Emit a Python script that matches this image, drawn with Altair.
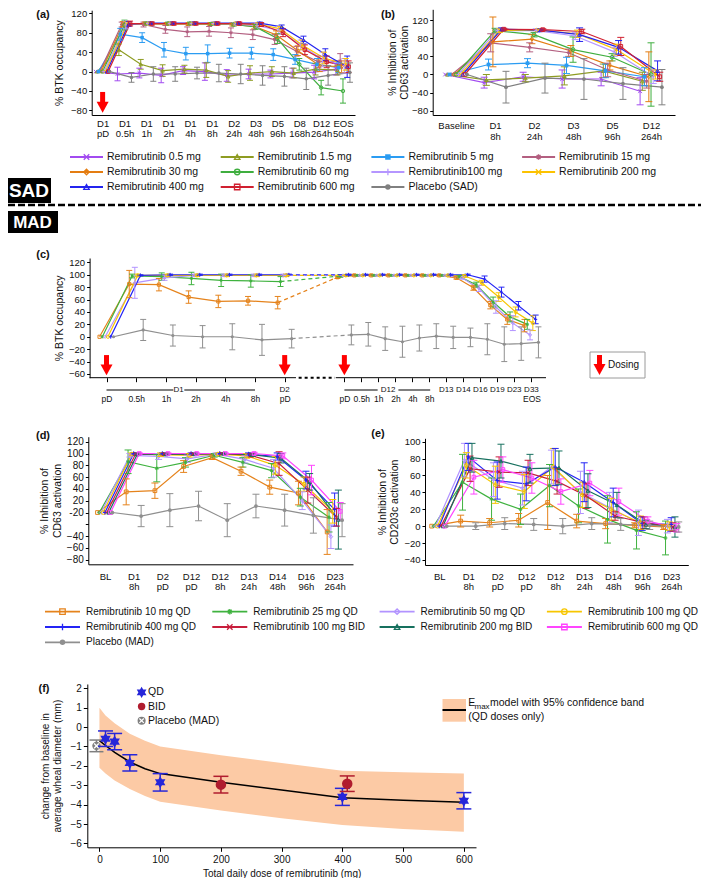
import json
import altair as alt
import pandas as pd

FONT = "Liberation Sans"
NARROW = "Liberation Sans Narrow, Liberation Sans"
W, H = 693, 870
INK = "#111111"
RED = "#ff0000"

X_PATH = "M-1,-1L1,1M-1,1L1,-1"
PLUS_PATH = "M-1,0L1,0M0,-1.2L0,1.2"
AST_PATH = "M-1,0L1,0M0,-1L0,1M-0.7,-0.7L0.7,0.7M-0.7,0.7L0.7,-0.7"
HEX_STAR = "M0,-1.15L1,0.58L-1,0.58ZM0,1.15L-1,-0.58L1,-0.58Z"
ARROW_HEAD = "M-1,-0.9L1,-0.9L0,0.9Z"
X_SMALL = "M-0.55,-0.55L0.55,0.55M-0.55,0.55L0.55,-0.55"

# ---------------------------------------------------------------- SAD data
sad_series = ["Remibrutinib 0.5 mg", "Remibrutinib 1.5 mg", "Remibrutinib 5 mg", "Remibrutinib 15 mg",
              "Remibrutinib 30 mg", "Remibrutinib 60 mg", "Remibrutinib100 mg", "Remibrutinib 200 mg",
              "Remibrutinib 400 mg", "Remibrutinib 600 mg", "Placebo (SAD)"]
sad_colors = ["#a24bf0", "#8e9c22", "#2b9cf2", "#b35f80", "#e47d12", "#3fae3f", "#b596ff",
              "#fcc200", "#2424ee", "#d02030", "#808080"]
sad_shapes = [X_PATH, "triangle-up", "square", AST_PATH, "diamond", "circle", PLUS_PATH,
              X_PATH, "triangle-up", "square", "circle"]
sad_filled = ["Remibrutinib 5 mg", "Placebo (SAD)"]

a_labels = [["D1", "pD"], ["D1", "0.5h"], ["D1", "1h"], ["D1", "2h"], ["D1", "4h"], ["D1", "8h"],
            ["D2", "24h"], ["D3", "48h"], ["D5", "96h"], ["D8", "168h"], ["D12", "264h"], ["EOS", "504h"]]
a_vals = [
    [0, -5, -3, -8, 2, 0, -8, -5, -5, -3, -1, 5],
    [0, 45, 15, 2, 5, 3, -10, -3, 0, -3, 5, 3],
    [0, 77, 70, 45, 37, 37, 38, 38, 35, 25, 15, 8],
    [0, 97, 97, 87, 82, 83, 80, 76, 66, 42, 20, 22],
    [0, 98, 99, 98, 98, 98, 97, 93, 76, 43, 12, 10],
    [0, 96, 99, 99, 99, 98, 97, 92, 68, 15, -33, -40],
    [0, 96, 99, 99, 99, 99, 98, 95, 85, 55, 25, 12],
    [0, 98, 99, 99, 99, 99, 99, 98, 88, 55, 28, 15],
    [0, 98, 100, 100, 100, 100, 100, 100, 92, 65, 35, 10],
    [0, 99, 99, 99, 99, 99, 99, 97, 80, 45, 20, 10],
    [0, -12, -5, -5, -3, -3, -5, -8, -10, -15, -8, -2],
]
a_err = [
    [0, 14, 10, 15, 8, 18, 12, 10, 8, 10, 14, 12],
    [0, 12, 10, 12, 8, 15, 12, 15, 10, 10, 12, 10],
    [0, 12, 10, 15, 13, 18, 10, 12, 12, 10, 12, 10],
    [0, 5, 5, 8, 10, 10, 10, 10, 10, 10, 12, 15],
    [0, 5, 3, 3, 3, 3, 3, 5, 8, 10, 12, 12],
    [0, 10, 3, 3, 3, 3, 3, 5, 10, 12, 15, 25],
    [0, 8, 3, 3, 3, 3, 3, 5, 8, 10, 15, 15],
    [0, 5, 3, 3, 3, 3, 3, 3, 5, 10, 12, 12],
    [0, 5, 2, 2, 2, 2, 2, 2, 4, 8, 12, 22],
    [0, 5, 3, 3, 3, 3, 3, 4, 8, 10, 12, 12],
    [0, 10, 15, 15, 12, 18, 20, 20, 20, 22, 20, 20],
]

b_labels = [["Baseline"], ["D1", "8h"], ["D2", "24h"], ["D3", "48h"], ["D5", "96h"], ["D12", "264h"]]
b_vals = [
    [0, -18, -5, -10, -10, -37],
    [0, -12, -8, -3, 8, -15],
    [0, 22, 25, 20, 8, -5],
    [0, 70, 60, 48, 10, -15],
    [0, 72, 78, 52, 20, -5],
    [0, 97, 88, 55, 38, 0],
    [0, 97, 97, 85, 50, -5],
    [0, 97, 98, 90, 55, 0],
    [0, 100, 98, 88, 60, 8],
    [0, 100, 99, 95, 62, -5],
    [0, -28, -8, -10, -20, -28],
]
b_err = [
    [0, 12, 10, 20, 15, 30],
    [0, 12, 8, 20, 15, 20],
    [0, 12, 10, 18, 15, 20],
    [0, 20, 10, 8, 15, 15],
    [0, 55, 10, 12, 10, 55],
    [0, 5, 5, 28, 8, 70],
    [0, 4, 4, 8, 10, 15],
    [0, 4, 3, 8, 12, 10],
    [0, 3, 3, 15, 15, 22],
    [0, 2, 2, 5, 20, 10],
    [0, 35, 33, 45, 35, 39],
]

# ---------------------------------------------------------------- MAD data
mad_series = ["Remibrutinib 10 mg QD", "Remibrutinib 25 mg QD", "Remibrutinib 50 mg QD",
              "Remibrutinib 100 mg QD", "Remibrutinib 400 mg QD", "Remibrutinib 100 mg BID",
              "Remibrutinib 200 mg BID", "Remibrutinib 600 mg QD", "Placebo (MAD)"]
mad_colors = ["#e5831c", "#3fb23f", "#b293ff", "#f7c600", "#2424f5", "#c81e3c", "#16705e",
              "#ff45ff", "#8f8f8f"]
mad_shapes = ["square", AST_PATH, "diamond", "circle", PLUS_PATH, X_PATH, "triangle-up", "square", "circle"]
mad_filled = ["Placebo (MAD)"]

# panel (c): BTK occupancy, MAD
c_series = ["Remibrutinib 10 mg QD", "Remibrutinib 25 mg QD", "Remibrutinib 50 mg QD",
            "Remibrutinib 100 mg QD", "Remibrutinib 400 mg QD", "Placebo (MAD)"]
c_pos = [0, 1, 2, 3, 4, 5, 6, 8.01, 8.58, 9.15, 9.73, 10.3, 10.87, 11.44, 12.02, 12.59, 13.16, 13.73, 14.31]
c_row2 = ["pD", "0.5h", "1h", "2h", "4h", "8h", "pD", "pD", "0.5h", "1h", "2h", "4h", "8h",
          "", "", "", "", "", "EOS"]
c_row1 = ["D2", "D13", "D14", "D16", "D19", "D23", "D33"]
c_row1_pos = [6, 11.44, 12.02, 12.59, 13.16, 13.73, 14.31]
c_groups = ["D1", "D12"]
c_groups_pos = [2.43, 9.48]
c_group_lines = [[0, 2.25], [2.62, 5.0], [8.01, 9.13], [9.83, 10.9]]
c_axis_solid = [[-0.57, 6.38], [7.72, 14.8]]
c_axis_break = [[6.47, 7.69]]
c_vals = [
    [0, 85, 84, 64, 57, 58, 55, 96, 99, 99, 99, 99, 99, 99, 95, 79, 51, 28, 18],
    [0, 98, 97, 94, 91, 90, 89, 98, 99, 99, 99, 99, 99, 99, 97, 84, 56, 32, 20],
    [0, 87, 95, 99, 99, 99, 99, 99, 99, 99, 99, 99, 99, 99, 95, 78, 48, 22, 3],
    [0, 99, 99, 99, 99, 99, 99, 99, 99, 99, 99, 99, 99, 99, 98, 87, 64, 40, 22],
    [0, 99, 100, 100, 100, 100, 100, 100, 100, 100, 100, 100, 100, 100, 100, 93, 72, 50, 28],
    [0, 11, 2, 0, 0, -5, -3, 3, 4, -3, -8, -2, 1, -1, -1, -4, -12, -11, -9],
]
c_err = [
    [0, 22, 10, 10, 10, 7, 10, 2, 1, 1, 1, 1, 1, 1, 2, 4, 6, 8, 10],
    [0, 3, 6, 10, 10, 10, 8, 2, 1, 1, 1, 1, 1, 1, 2, 4, 8, 8, 8],
    [0, 25, 4, 2, 2, 2, 2, 1, 1, 1, 1, 1, 1, 1, 2, 5, 10, 12, 8],
    [0, 2, 2, 2, 2, 2, 2, 1, 1, 1, 1, 1, 1, 1, 2, 4, 7, 8, 12],
    [0, 1, 1, 1, 1, 1, 1, 1, 1, 1, 1, 1, 1, 1, 1, 5, 8, 7, 7],
    [0, 17, 17, 18, 21, 25, 15, 16, 19, 19, 25, 21, 20, 18, 15, 25, 28, 27, 25],
]
dose_arrow_a = [0]
dose_arrow_c = [0, 6, 8.01]

de_labels = [["BL"], ["D1", "8h"], ["D2", "pD"], ["D12", "pD"], ["D12", "8h"], ["D13", "24h"],
             ["D14", "48h"], ["D16", "96h"], ["D23", "264h"]]
d_vals = [
    [0, 35, 37, 78, 93, 70, 43, 33, -33],
    [0, 86, 75, 85, 97, 85, 71, 26, -8],
    [0, 97, 95, 91, 99, 90, 75, 20, -41],
    [0, 99, 98, 97, 99, 96, 80, 48, 2],
    [0, 100, 100, 100, 100, 99, 95, 55, 5],
    [0, 99, 99, 99, 100, 97, 83, 38, -8],
    [0, 99, 99, 99, 100, 98, 92, 52, -12],
    [0, 100, 100, 100, 100, 100, 96, 55, 2],
    [0, -6, 4, 11, -13, 11, 4, -5, -13],
]
d_err = [
    [0, 22, 13, 10, 3, 7, 12, 20, 38],
    [0, 20, 23, 8, 3, 8, 12, 15, 25],
    [0, 3, 5, 6, 2, 6, 15, 15, 20],
    [0, 2, 3, 3, 2, 4, 15, 12, 20],
    [0, 1, 1, 1, 1, 2, 6, 15, 28],
    [0, 2, 2, 2, 1, 3, 20, 22, 15],
    [0, 2, 2, 2, 1, 3, 8, 14, 50],
    [0, 1, 1, 1, 1, 2, 5, 25, 15],
    [0, 18, 28, 25, 28, 20, 27, 30, 28],
]
e_vals = [
    [0, 6, 4, 7, 28, 6, 3, 1, -1],
    [0, 52, 32, 20, 48, 24, 8, -5, -14],
    [0, 78, 55, 45, 70, 40, 22, 4, 0],
    [0, 72, 49, 41, 70, 37, 20, 4, 0],
    [0, 82, 54, 50, 70, 52, 28, 3, 2],
    [0, 68, 64, 63, 53, 36, 12, 4, -1],
    [0, 81, 77, 68, 69, 42, 25, 2, -1],
    [0, 58, 67, 57, 41, 51, 29, 6, -2],
    [0, 0, 3, 2, 0, 3, 2, 1, -1],
]
e_err = [
    [0, 7, 5, 8, 32, 8, 6, 3, 3],
    [0, 33, 25, 18, 25, 20, 28, 22, 20],
    [0, 20, 20, 20, 20, 25, 18, 15, 8],
    [0, 15, 22, 20, 22, 15, 13, 8, 5],
    [0, 16, 22, 20, 22, 23, 17, 8, 8],
    [0, 15, 18, 15, 15, 15, 5, 7, 5],
    [0, 17, 20, 17, 20, 20, 15, 5, 12],
    [0, 20, 15, 18, 15, 15, 16, 5, 5],
    [0, 4, 7, 7, 9, 7, 7, 5, 6],
]

# panel (f)
f_band_dose = [0, 10, 25, 50, 75, 100, 200, 300, 400, 500, 600]
f_band_hi = [1.0, 0.6, 0.2, -0.35, -0.7, -1.0, -1.45, -1.85, -2.25, -2.33, -2.4]
f_band_lo = [-2.1, -2.4, -2.75, -3.2, -3.55, -3.85, -4.3, -4.7, -5.05, -5.25, -5.4]
f_fit = [-0.7, -0.95, -1.3, -1.8, -2.15, -2.4, -2.85, -3.25, -3.65, -3.78, -3.88]
f_qd_dose = [10, 25, 50, 100, 400, 600]
f_qd_mean = [-0.6, -0.75, -1.85, -2.85, -3.6, -3.8]
f_qd_se = [0.4, 0.42, 0.42, 0.45, 0.44, 0.42]
f_bid_dose = [200, 408]
f_bid_mean = [-2.97, -2.92]
f_bid_se = [0.43, 0.4]
f_pbo_dose = [0]
f_pbo_mean = [-0.97]
f_pbo_se = [0.3]
f_legend = ["QD", "BID", "Placebo (MAD)"]

QD_BLUE = "#2626d9"
BID_RED = "#b01c2e"
PBO_GRAY = "#7f7f7f"
BAND = "#fccaa5"


# ---------------------------------------------------------------- helpers
def series_df(names, vals, errs, pos, dodge, seg_break=None):
    rows = []
    n = len(names)
    for i, nm in enumerate(names):
        for j, (v, e) in enumerate(zip(vals[i], errs[i])):
            rows.append({"series": nm, "idx": j, "x": pos[j] + (i - (n - 1) / 2) * dodge,
                         "y": v, "lo": v - e, "hi": v + e,
                         "seg": 0 if (seg_break is None or j < seg_break) else 1})
    return pd.DataFrame(rows)


def lin(domain, rng):
    return alt.Scale(domain=domain, range=rng, nice=False, zero=False)


def y_axis(x0, values, title, pad=4, expr=None, fs=9.5, tfs=10.5, tick=3, font=FONT):
    kw = dict(orient="left", offset=-x0, values=values, title=title, grid=False, tickSize=tick,
              tickColor="black", domainColor="black", labelPadding=2, titlePadding=pad,
              labelFontSize=fs, titleFontSize=tfs, titleFontWeight="normal", labelColor=INK,
              titleColor=INK, labelFlush=False, labelOverlap=False, titleLineHeight=12.5,
              labelFont=font, titleFont=font)
    if expr:
        kw["labelExpr"] = expr
    return alt.Axis(**kw)


def x_axis(y0, values, expr, pad=3, ticks=False, tick=0, lh=10.5, domain=True, fs=9.5, title="",
           tpad=4, tfs=10.5, font=FONT):
    kw = dict(orient="bottom", offset=y0 - H, values=values, labelExpr=expr, grid=False,
              ticks=ticks, tickSize=tick, domain=domain, domainColor="black", tickColor="black",
              labelPadding=pad, labelFontSize=fs, labelLineHeight=lh, labelFlush=False,
              labelOverlap=False, labelColor=INK, titleColor=INK, titleFontWeight="normal",
              titlePadding=tpad, titleFontSize=tfs, title=title, labelFont=font, titleFont=font)
    return alt.Axis(**kw)


def in_expr(names):
    return f"indexof({json.dumps(names)}, datum.series) >= 0"


def out_expr(names):
    return f"indexof({json.dumps(names)}, datum.series) < 0"


class Frame:
    """x / y channel factory that carries one panel's scales and axes on every layer."""

    def __init__(self, xs, ys, xaxis, yaxis):
        self.xs, self.ys, self.xa, self.ya = xs, ys, xaxis, yaxis

    def X(self, f):
        return alt.X(f, scale=self.xs, axis=self.xa)

    def Y(self, f):
        return alt.Y(f, scale=self.ys, axis=self.ya)

    def YD(self, v):
        return alt.YDatum(v, scale=self.ys, axis=self.ya)


def panel(df, fr, cscale, sscale, filled, cap, psize, lw=1.2, detail=None, extra=()):
    base = alt.Chart(df)
    col = alt.Color("series:N", scale=cscale, legend=None)
    sh = alt.Shape("series:N", scale=sscale, legend=None)
    enc = dict(x=fr.X("x:Q"), y=fr.Y("y:Q"), color=col)
    if detail is not None:
        enc["detail"] = detail
    line = base.mark_line(strokeWidth=lw).encode(**enc)
    eb = base.transform_filter("datum.hi > datum.lo")
    rule = eb.mark_rule(strokeWidth=1).encode(x=fr.X("x:Q"), y=fr.Y("lo:Q"), y2="hi:Q", color=col)
    c1 = eb.mark_tick(orient="horizontal", size=cap, thickness=1, opacity=1).encode(
        x=fr.X("x:Q"), y=fr.Y("lo:Q"), color=col)
    c2 = eb.mark_tick(orient="horizontal", size=cap, thickness=1, opacity=1).encode(
        x=fr.X("x:Q"), y=fr.Y("hi:Q"), color=col)
    po = base.transform_filter(out_expr(filled)).mark_point(filled=False, size=psize, strokeWidth=1,
                                                              opacity=1).encode(
        x=fr.X("x:Q"), y=fr.Y("y:Q"), color=col, shape=sh)
    pf = base.transform_filter(in_expr(filled)).mark_point(filled=True, size=psize, opacity=1).encode(
        x=fr.X("x:Q"), y=fr.Y("y:Q"), color=col, shape=sh)
    return alt.layer(line, rule, c1, c2, po, pf, *extra)


def arrows(xpos, ytop, ybot, yhead, fr):
    base = alt.Chart(pd.DataFrame({"x": xpos}))
    stem = base.mark_rule(color=RED, strokeWidth=5).encode(x=fr.X("x:Q"), y=fr.YD(ytop), y2=alt.datum(ybot))
    head = base.mark_point(shape=ARROW_HEAD, filled=True, color=RED, size=144, opacity=1).encode(
        x=fr.X("x:Q"), y=fr.YD(yhead))
    return [stem, head]


def legend(names, colors, shapes, filled, ncol, x0, xstep, y0, ystep, line_len, text_dx, fs, psize=30):
    df = pd.DataFrame({"series": names,
                       "col": [i % ncol for i in range(len(names))],
                       "row": [i // ncol for i in range(len(names))]})
    xs = lin([0, ncol - 1], [x0, x0 + xstep * (ncol - 1)])
    ys = lin([0, 2], [y0, y0 + 2 * ystep])
    base = alt.Chart(df)
    X = alt.X("col:Q", scale=xs, axis=None)
    Y = alt.Y("row:Q", scale=ys, axis=None)
    col = alt.Color("series:N", scale=alt.Scale(domain=names, range=colors), legend=None)
    sh = alt.Shape("series:N", scale=alt.Scale(domain=names, range=shapes), legend=None)
    ln = base.mark_rule(strokeWidth=1.8, x2Offset=line_len).encode(x=X, x2="col:Q", y=Y, color=col)
    po = base.transform_filter(out_expr(filled)).mark_point(
        filled=False, size=psize, strokeWidth=1.3, opacity=1, xOffset=line_len / 2).encode(
        x=X, y=Y, color=col, shape=sh)
    pf = base.transform_filter(in_expr(filled)).mark_point(
        filled=True, size=psize, opacity=1, xOffset=line_len / 2).encode(x=X, y=Y, color=col, shape=sh)
    tx = base.mark_text(align="left", baseline="middle", dx=text_dx, fontSize=fs, color=INK).encode(
        x=X, y=Y, text="series:N")
    return alt.layer(ln, po, pf, tx)


dummy = pd.DataFrame({"k": [0]})


def deco_rect(x, x2, y, y2, **kw):
    return alt.Chart(dummy).mark_rect(**kw).encode(x=alt.value(x), x2=alt.value(x2), y=alt.value(y),
                                                   y2=alt.value(y2))


def deco_text(t, x, y, **kw):
    return alt.Chart(dummy).mark_text(text=t, **kw).encode(x=alt.value(x), y=alt.value(y))


layers = []

# ---------------------------------------------------------------- panel (a)
sad_c = alt.Scale(domain=sad_series, range=sad_colors)
sad_s = alt.Scale(domain=sad_series, range=sad_shapes)
fa = Frame(lin([-0.5, 11.55], [83.7, 347]), lin([-89.5, 126.5], [107, 2.2]),
           x_axis(107, list(range(12)), json.dumps(a_labels) + "[round(datum.value)]", pad=3),
           y_axis(83.7, [-80, -40, 0, 40, 80, 120], "% BTK occupancy", pad=6))
df_a = series_df(sad_series, a_vals, a_err, list(range(12)), 0.064)
layers.append(panel(df_a, fa, sad_c, sad_s, sad_filled, cap=6, psize=12,
                    extra=arrows(dose_arrow_a, -42, -64, -73.5, fa)))

# ---------------------------------------------------------------- panel (b)
fb = Frame(lin([-0.6, 5.615], [424.7, 667]), lin([-89.5, 144], [107, 1.3]),
           x_axis(107, list(range(6)), json.dumps(b_labels) + "[round(datum.value)]", pad=5, lh=11.5),
           y_axis(424.7, [-80, -40, 0, 40, 80, 120], ["% Inhibition of", "CD63 activation"], pad=2))
df_b = series_df(sad_series, b_vals, b_err, list(range(6)), 0.056)
layers.append(panel(df_b, fb, sad_c, sad_s, sad_filled, cap=7, psize=14))

# SAD legend
layers.append(legend(sad_series, sad_colors, sad_shapes, sad_filled, 4, 62, 150.7, 149, 15, 33, 37, 10.5))

# banner
layers += [
    deco_rect(-8, 43, 170, 195, color="black"),
    deco_text("SAD", 21, 183, color="white", fontWeight="bold", fontSize=19, align="center",
              baseline="middle"),
    alt.Chart(dummy).mark_rule(color="black", strokeWidth=2.5, strokeDash=[7, 3]).encode(
        x=alt.value(0), x2=alt.value(W), y=alt.value(197)),
    deco_rect(-1, 50, 203, 225, color="black"),
    deco_text("MAD", 24.5, 214.5, color="white", fontWeight="bold", fontSize=17, align="center",
              baseline="middle", font=NARROW),
]

# ---------------------------------------------------------------- panel (c)
c_colors = [mad_colors[mad_series.index(s)] for s in c_series]
c_shapes = [mad_shapes[mad_series.index(s)] for s in c_series]
c_expr = json.dumps(c_row2) + "[indexof(" + json.dumps(c_pos) + ", datum.value)]"
fc = Frame(lin([-0.57, 14.8], [81.6, 538]), lin([-66, 127], [369.7, 250]),
           x_axis(369.7, c_pos, c_expr, pad=13, ticks=True, tick=4, domain=False, fs=8.5, font=NARROW),
           y_axis(81.6, list(range(-60, 121, 20)), "% BTK occupancy", pad=4, font=NARROW, fs=9.5))
df_c = series_df(c_series, c_vals, c_err, c_pos, 0.094, seg_break=7)
cc = alt.Scale(domain=c_series, range=c_colors)
bridge = df_c[df_c["idx"].isin([6, 7])]
bridge_line = alt.Chart(bridge).mark_line(strokeWidth=1.2, strokeDash=[4, 3]).encode(
    x=fc.X("x:Q"), y=fc.Y("y:Q"), color=alt.Color("series:N", scale=cc, legend=None), detail="series:N")
solid_df = pd.DataFrame({"x0": [s[0] for s in c_axis_solid], "x1": [s[1] for s in c_axis_solid]})
break_df = pd.DataFrame({"x0": [s[0] for s in c_axis_break], "x1": [s[1] for s in c_axis_break]})
axis_solid = alt.Chart(solid_df).mark_rule(color="black", strokeWidth=1).encode(
    x=fc.X("x0:Q"), x2="x1:Q", y=fc.YD(-66))
axis_break = alt.Chart(break_df).mark_rule(color="black", strokeWidth=2, strokeDash=[3, 3]).encode(
    x=fc.X("x0:Q"), x2="x1:Q", y=fc.YD(-66))
row1_df = pd.DataFrame({"x": c_row1_pos + c_groups_pos, "t": c_row1 + c_groups})
row1 = alt.Chart(row1_df).mark_text(fontSize=8, color=INK, baseline="middle", font=NARROW).encode(
    x=fc.X("x:Q"), y=alt.value(382), text="t:N")
glines_df = pd.DataFrame({"x0": [g[0] for g in c_group_lines], "x1": [g[1] for g in c_group_lines]})
glines = alt.Chart(glines_df).mark_rule(color="black", strokeWidth=1).encode(
    x=fc.X("x0:Q"), x2="x1:Q", y=alt.value(382))
layers.append(panel(df_c, fc, cc, alt.Scale(domain=c_series, range=c_shapes), mad_filled, cap=6, psize=10,
                    detail="seg:N",
                    extra=[bridge_line, axis_solid, axis_break, row1, glines] +
                          arrows(dose_arrow_c, -29.5, -45.5, -53.5, fc)))

# dosing legend
layers += [
    deco_rect(582, 637, 344, 370, fill="white", stroke="#9a9a9a", strokeWidth=1),
    alt.Chart(dummy).mark_rule(color=RED, strokeWidth=5).encode(
        x=alt.value(591.5), y=alt.value(347), y2=alt.value(357)),
    alt.Chart(dummy).mark_point(shape=ARROW_HEAD, filled=True, color=RED, size=144, opacity=1).encode(
        x=alt.value(591.5), y=alt.value(361.5)),
    deco_text("Dosing", 600, 357, fontSize=10, color=INK, align="left", baseline="middle"),
]

# ---------------------------------------------------------------- panels (d), (e)
mad_c = alt.Scale(domain=mad_series, range=mad_colors)
mad_s = alt.Scale(domain=mad_series, range=mad_shapes)
d_yexpr = "datum.value == 0 ? '-20' : (datum.value == -20 ? '' : datum.label)"
fd = Frame(lin([-0.58, 8.64], [80.3, 345]), lin([-87.8, 128.5], [556.3, 428.7]),
           x_axis(556.3, list(range(9)), json.dumps(de_labels) + "[round(datum.value)]", pad=7, lh=10.5),
           y_axis(80.3, list(range(-80, 121, 20)), ["% Inhibition of", "CD63 activation"], pad=4,
                  expr=d_yexpr, fs=10))
df_d = series_df(mad_series, d_vals, d_err, list(range(9)), 0.065)
layers.append(panel(df_d, fd, mad_c, mad_s, mad_filled, cap=7, psize=14))

fe = Frame(lin([-0.49, 8.59], [417, 680.3]), lin([-46, 104], [557, 430.3]),
           x_axis(557, list(range(9)), json.dumps(de_labels) + "[round(datum.value)]", pad=6, lh=10.5),
           y_axis(417, list(range(-40, 101, 20)), ["% Inhibition of", "CD203c activation"], pad=4))
df_e = series_df(mad_series, e_vals, e_err, list(range(9)), 0.065)
layers.append(panel(df_e, fe, mad_c, mad_s, mad_filled, cap=7, psize=14))

layers.append(legend(mad_series, mad_colors, mad_shapes, mad_filled, 4, 37, 167.3, 603.7, 15.3, 35, 41, 10))

# ---------------------------------------------------------------- panel (f)
ff = Frame(lin([-20, 620], [79.3, 468]), lin([-6.2, 2.22], [839.3, 676]),
           x_axis(839.3, list(range(0, 601, 100)), "datum.label", pad=3, ticks=True, tick=4, fs=10,
                  title="Total daily dose of remibrutinib (mg)", tpad=4, tfs=10, font=NARROW),
           y_axis(79.3, list(range(-6, 3)), ["change from baseline in", "average wheal diameter (mm)"],
                  pad=7, fs=10, tfs=10, tick=4, font=NARROW))
band_df = pd.DataFrame({"dose": f_band_dose, "hi": f_band_hi, "lo": f_band_lo, "fit": f_fit})
band = alt.Chart(band_df).mark_area(color=BAND, opacity=1).encode(x=ff.X("dose:Q"), y=ff.Y("hi:Q"), y2="lo:Q")
fit = alt.Chart(band_df).mark_line(color="black", strokeWidth=1.5).encode(x=ff.X("dose:Q"), y=ff.Y("fit:Q"))


def f_points(dose, mean, se, color, shape, size, cap=15, xoff=0):
    df = pd.DataFrame({"dose": dose, "m": mean, "lo": [a - b for a, b in zip(mean, se)],
                       "hi": [a + b for a, b in zip(mean, se)]})
    base = alt.Chart(df)
    return [
        base.mark_rule(color=color, strokeWidth=1.5, xOffset=xoff).encode(
            x=ff.X("dose:Q"), y=ff.Y("lo:Q"), y2="hi:Q"),
        base.mark_tick(orient="horizontal", color=color, size=cap, thickness=1.5, opacity=1,
                       xOffset=xoff).encode(x=ff.X("dose:Q"), y=ff.Y("lo:Q")),
        base.mark_tick(orient="horizontal", color=color, size=cap, thickness=1.5, opacity=1,
                       xOffset=xoff).encode(x=ff.X("dose:Q"), y=ff.Y("hi:Q")),
        base.mark_point(shape=shape, filled=True, color=color, size=size, opacity=1,
                        xOffset=xoff).encode(x=ff.X("dose:Q"), y=ff.Y("m:Q")),
    ]


pbo_layers = f_points(f_pbo_dose, f_pbo_mean, f_pbo_se, PBO_GRAY, "circle", 70, cap=14, xoff=-3)
pbo_x = alt.Chart(pd.DataFrame({"dose": f_pbo_dose, "m": f_pbo_mean})).mark_point(
    shape=X_SMALL, filled=False, color="white", strokeWidth=1.3, size=70, opacity=1, xOffset=-3).encode(
    x=ff.X("dose:Q"), y=ff.Y("m:Q"))
qd_layers = f_points(f_qd_dose, f_qd_mean, f_qd_se, QD_BLUE, HEX_STAR, 110)
bid_layers = f_points(f_bid_dose, f_bid_mean, f_bid_se, BID_RED, "circle", 110)
layers.append(alt.layer(band, fit, *pbo_layers, pbo_x, *qd_layers, *bid_layers))

# (f) legends
fl_df = pd.DataFrame({"t": f_legend, "row": [0, 1, 2]})
fl_ys = lin([0, 2], [684.3, 712.7])
fl_base = alt.Chart(fl_df)
FLY = alt.Y("row:Q", scale=fl_ys, axis=None)
layers.append(alt.layer(
    fl_base.transform_filter("datum.row == 0").mark_point(shape=HEX_STAR, filled=True, color=QD_BLUE,
                                                            size=95, opacity=1).encode(x=alt.value(133.6), y=FLY),
    fl_base.transform_filter("datum.row == 1").mark_point(shape="circle", filled=True, color=BID_RED,
                                                            size=55, opacity=1).encode(x=alt.value(133.6), y=FLY),
    fl_base.transform_filter("datum.row == 2").mark_point(shape="circle", filled=True, color=PBO_GRAY,
                                                            size=65, opacity=1).encode(x=alt.value(133.6), y=FLY),
    fl_base.transform_filter("datum.row == 2").mark_point(shape=X_SMALL, filled=False, color="white",
                                                            strokeWidth=1.2, size=65, opacity=1).encode(
        x=alt.value(133.6), y=FLY),
    fl_base.mark_text(align="left", baseline="middle", fontSize=10.5, color=INK, font=NARROW).encode(
        x=alt.value(140), y=FLY, text="t:N"),
))

layers += [
    deco_rect(434.5, 458, 691, 713.7, color=BAND),
    alt.Chart(dummy).mark_rule(color="black", strokeWidth=2).encode(
        x=alt.value(434.5), x2=alt.value(458), y=alt.value(702)),
    deco_text("E", 460.3, 695.3, fontSize=10.5, color=INK, align="left", baseline="middle", font=NARROW),
    deco_text("max", 466.5, 698.5, fontSize=8, color=INK, align="left", baseline="middle", font=NARROW),
    deco_text("model with 95% confidence band", 482, 695.3, fontSize=10.5, color=INK, align="left",
              baseline="middle", font=NARROW),
    deco_text("(QD doses only)", 460.3, 709.3, fontSize=10.5, color=INK, align="left", baseline="middle",
              font=NARROW),
]

# panel tags
for tag, tx, ty in [("(a)", 35, 7), ("(b)", 380, 7), ("(c)", 35, 247), ("(d)", 35, 428),
                    ("(e)", 370, 426), ("(f)", 36, 681)]:
    layers.append(deco_text(tag, tx, ty, fontSize=11, fontWeight="bold", color=INK, align="center",
                            baseline="middle"))

chart = alt.layer(*layers).resolve_scale(
    x="independent", y="independent", color="independent", shape="independent"
).properties(
    width=W, height=H, padding=0, autosize=alt.AutoSizeParams(type="none")
).configure(font=FONT).configure_view(stroke=None)

chart.save("out.html", embed_options={"renderer": "svg", "actions": False})
